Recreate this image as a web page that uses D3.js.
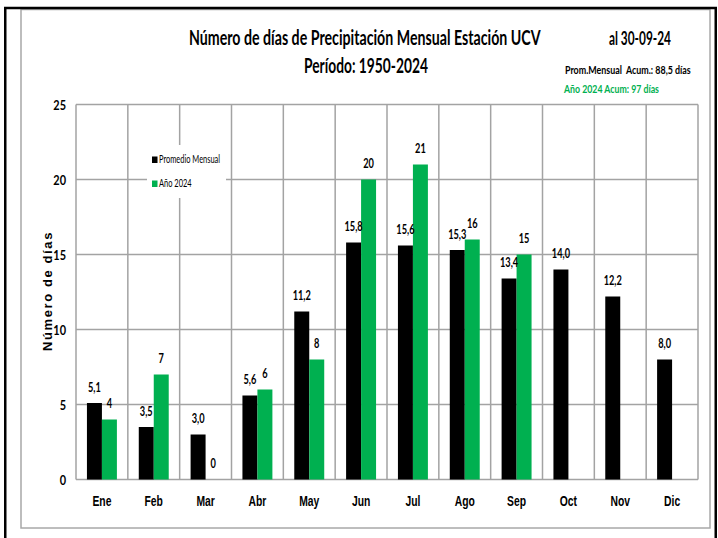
<!DOCTYPE html>
<html>
<head>
<meta charset="utf-8">
<script src="https://cdn.jsdelivr.net/npm/d3@7"></script>
<style>
  html, body { margin: 0; padding: 0; background: #fff; }
  svg { display: block; }
  text { white-space: pre; }
</style>
</head>
<body>
<div id="chart"></div>
<script>
// ---------- data ----------
const months = ["Ene","Feb","Mar","Abr","May","Jun","Jul","Ago","Sep","Oct","Nov","Dic"];
const promedio = [5.1, 3.5, 3.0, 5.6, 11.2, 15.8, 15.6, 15.3, 13.4, 14.0, 12.2, 8.0];
const anio2024 = [4, 7, 0, 6, 8, 20, 21, 16, 15, null, null, null];
const yTicks = [0, 5, 10, 15, 20, 25];
const seriesNames = ["Promedio Mensual", "Año 2024"];
const titleText = "Número de días de Precipitación Mensual Estación UCV";
const subtitleText = "Período: 1950-2024";
const dateText = "al 30-09-24";
const noteProm = "Prom.Mensual  Acum.: 88,5 días";
const note2024 = "Año 2024 Acum: 97 días";
const yTitle = "Número de días";

// ---------- setup ----------
const W = 718, H = 538;
const GREEN = "#00B050", GRID = "#a3a3a3";
const CAL = "Lato, 'Open Sans', sans-serif";
const ARN = "'Liberation Sans', Arial, sans-serif";

const svg = d3.select("#chart").append("svg").attr("width", W).attr("height", H);

const plot = { left: 76, right: 698, top: 104.5, bottom: 479.5 };

const x = d3.scaleBand().domain(months).range([plot.left, plot.right]).padding(0);
const xs = d3.scaleBand().domain(seriesNames).range([0, x.bandwidth()]).paddingInner(0).paddingOuter(0.73);
const y = d3.scaleLinear().domain([0, 25]).range([plot.bottom, plot.top]);

// frames
svg.append("rect").attr("x", 21).attr("y", 9.5).attr("width", 689).attr("height", 518.5)
  .attr("fill", "none").attr("stroke", "#a8a8a8").attr("stroke-width", 1.5);
svg.append("path").attr("d", `M5.25 ${H} V8 H715.75 V${H}`)
  .attr("fill", "none").attr("stroke", "#000").attr("stroke-width", 2.5);

// measure condensing factor from title
function naturalWidth(str, size, family, weight) {
  const p = svg.append("text").attr("font-family", family).attr("font-weight", weight)
    .attr("font-size", size).text(str);
  const w = p.node().getComputedTextLength();
  p.remove();
  return w;
}
const SX = 352 / naturalWidth(titleText, 20, CAL, 700);

function ctext(parent, tx, ty, str, o) {
  return parent.append("text")
    .attr("transform", `translate(${tx},${ty}) scale(${o.sx || SX},1)`)
    .attr("text-anchor", o.anchor || "start")
    .attr("font-family", o.family || CAL)
    .attr("font-weight", o.weight || 700)
    .attr("font-size", o.size)
    .attr("fill", o.fill || "#000")
    .text(str);
}
function fitText(parent, tx, ty, str, width, o) {
  const nw = naturalWidth(str, o.size, o.family || CAL, o.weight || 700);
  return ctext(parent, tx, ty, str, Object.assign({}, o, { sx: width / nw }));
}

// gridlines
const grid = svg.append("g");
grid.selectAll("line.h").data(yTicks).join("line")
  .attr("x1", plot.left).attr("x2", plot.right)
  .attr("y1", d => y(d)).attr("y2", d => y(d))
  .attr("stroke", GRID).attr("stroke-width", 1.5);
const bounds = months.map(m => x(m)).concat([x(months[months.length - 1]) + x.bandwidth()]);
grid.selectAll("line.v").data(bounds).join("line")
  .attr("x1", d => d).attr("x2", d => d)
  .attr("y1", plot.top).attr("y2", plot.bottom)
  .attr("stroke", GRID).attr("stroke-width", 1.5);

// bars
const rows = months.map((m, i) => ({ m, vals: [promedio[i], anio2024[i]] }));
const groups = svg.append("g").selectAll("g").data(rows).join("g")
  .attr("transform", d => `translate(${x(d.m)},0)`);
groups.selectAll("rect").data(d => d.vals.map((v, j) => ({ s: seriesNames[j], v, j })).filter(e => e.v !== null))
  .join("rect")
  .attr("x", e => xs(e.s))
  .attr("width", xs.bandwidth())
  .attr("y", e => y(e.v))
  .attr("height", e => y(0) - y(e.v))
  .attr("fill", e => e.j === 0 ? "#000" : GREEN);

// bar labels
const fmt1 = v => d3.format(".1f")(v).replace(".", ",");
rows.forEach(r => {
  r.vals.forEach((v, j) => {
    if (v === null) return;
    const cx = x(r.m) + xs(seriesNames[j]) + xs.bandwidth() / 2;
    ctext(svg, cx, y(v) - 11.5, j === 0 ? fmt1(v) : String(v), { size: 13, anchor: "middle" });
  });
});

// y axis (labels only)
const yAxis = svg.append("g").attr("transform", `translate(${plot.left},0)`)
  .call(d3.axisLeft(y).tickValues(yTicks).tickSize(0).tickFormat(d3.format("d")));
yAxis.select(".domain").remove();
yAxis.selectAll("text")
  .attr("font-family", CAL).attr("font-weight", 700).attr("font-size", 14).attr("fill", "#000")
  .attr("x", -10 / (SX * 1.1)).attr("dy", "0.36em")
  .attr("transform", `scale(${SX * 1.1},1)`);

// x axis (labels only)
const XSX = 0.74;
const xAxis = svg.append("g").attr("transform", `translate(0,${plot.bottom})`)
  .call(d3.axisBottom(x).tickSize(0));
xAxis.select(".domain").remove();
xAxis.selectAll("text")
  .attr("font-family", ARN).attr("font-weight", 700).attr("font-size", 14).attr("fill", "#000")
  .attr("y", 26.5).attr("dy", 0)
  .attr("transform", `scale(${XSX},1)`);

// y title
svg.append("text")
  .attr("transform", `translate(52,291) rotate(-90)`)
  .attr("text-anchor", "middle")
  .attr("font-family", ARN).attr("font-weight", 700).attr("font-size", 13)
  .attr("letter-spacing", 1.6)
  .text(yTitle);

// titles
fitText(svg, 189, 45, titleText, 352, { size: 20 });
fitText(svg, 304, 73, subtitleText, 124, { size: 20 });
fitText(svg, 609, 45, dateText, 62, { size: 18 });
fitText(svg, 565, 74, noteProm, 126, { size: 12 });
fitText(svg, 564, 93, note2024, 95, { size: 12, fill: GREEN });

// legend
const leg = svg.append("g");
leg.append("rect").attr("x", 147).attr("y", 145).attr("width", 79).attr("height", 53).attr("fill", "#fff");
const legColors = ["#000", GREEN];
seriesNames.forEach((s, i) => {
  const ly = 163 + i * 24;
  leg.append("rect").attr("x", 152).attr("y", ly - 6.5).attr("width", 5.5).attr("height", 6.5).attr("fill", legColors[i]);
  ctext(leg, 159, ly, s, { size: 10.5, weight: 400 });
});
</script>
</body>
</html>
